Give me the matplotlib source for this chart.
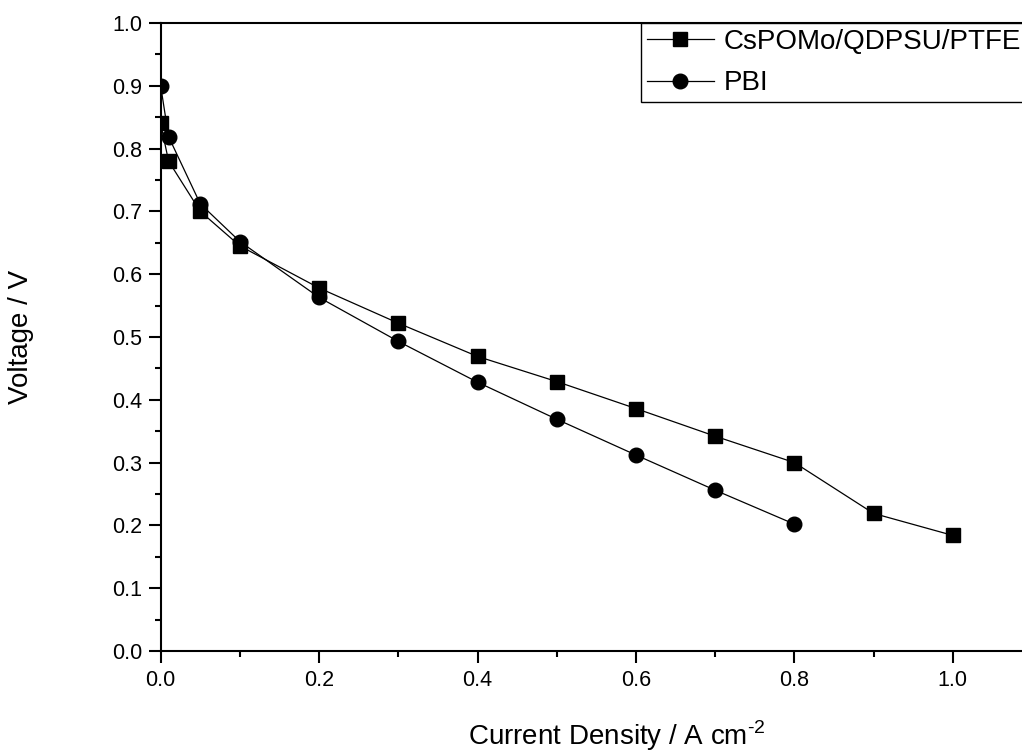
import numpy as np
import matplotlib
matplotlib.use("Agg")
import matplotlib.pyplot as plt
from matplotlib.ticker import MultipleLocator

plt.rcParams['font.family'] = ['Liberation Sans', 'DejaVu Sans']
plt.rcParams['mathtext.fontset'] = 'custom'
plt.rcParams['mathtext.rm'] = 'Liberation Sans'

# current density (A cm^-2) and voltage (V)
j_cs = [0.0, 0.01, 0.05, 0.1, 0.2, 0.3, 0.4, 0.5, 0.6, 0.7, 0.8, 0.9, 1.0]
v_cs = [0.840, 0.780, 0.700, 0.645, 0.578, 0.522, 0.469, 0.429, 0.386, 0.342, 0.300, 0.219, 0.184]
j_pbi = [0.0, 0.01, 0.05, 0.1, 0.2, 0.3, 0.4, 0.5, 0.6, 0.7, 0.8]
v_pbi = [0.900, 0.819, 0.712, 0.652, 0.563, 0.493, 0.428, 0.369, 0.312, 0.256, 0.202]

fig = plt.figure(figsize=(10.22, 7.51), dpi=100)
ax = fig.add_axes([0.1572, 0.1332, 0.8526, 0.8362])

ax.plot(j_cs, v_cs, 'k-', marker='s', ms=9.5, lw=0.9, label='CsPOMo/QDPSU/PTFE')
ax.plot(j_pbi, v_pbi, 'k-', marker='o', ms=10.5, lw=0.9, label='PBI')

ax.set_xlim(0, 1.1)
ax.set_ylim(0, 1.0)
ax.xaxis.set_major_locator(MultipleLocator(0.2))
ax.xaxis.set_minor_locator(MultipleLocator(0.1))
ax.yaxis.set_major_locator(MultipleLocator(0.1))
ax.yaxis.set_minor_locator(MultipleLocator(0.05))

for s in ax.spines.values():
    s.set_linewidth(1.5)
ax.tick_params(which='both', direction='out', width=1.5, labelsize=15.5, pad=5)
ax.tick_params(which='major', length=8.5)
ax.tick_params(which='minor', length=4.5)

ax.set_xlabel('Current Density / A cm$^{\\text{-}2}$', fontsize=20)
ax.xaxis.label.set_va('baseline')
ax.xaxis.set_label_coords(0.524, -0.1497)
ax.set_ylabel('Voltage / V', fontsize=20)
ax.yaxis.set_label_coords(-0.1454, 0.5)

leg = ax.legend(loc='upper left', bbox_to_anchor=(0.5512, 1.0), fontsize=20,
                frameon=True, fancybox=False, framealpha=1, edgecolor='k',
                borderaxespad=0, borderpad=0.22, handlelength=2.4,
                handletextpad=0.35, labelspacing=0.55)
leg.get_frame().set_linewidth(1.0)

plt.savefig('out.png', dpi=100)
